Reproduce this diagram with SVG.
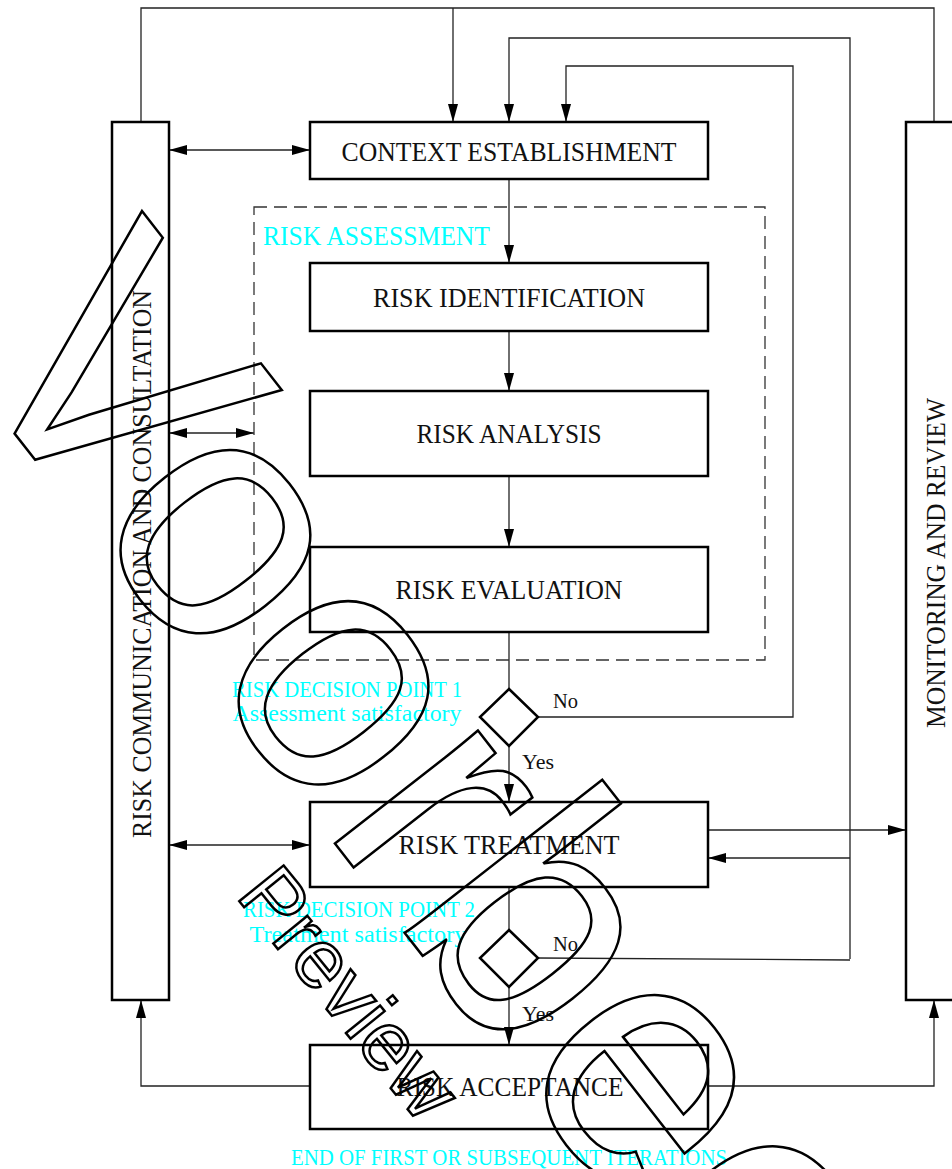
<svg xmlns="http://www.w3.org/2000/svg" width="952" height="1169" viewBox="0 0 952 1169">
<style>
.box{fill:#fff;stroke:#000;stroke-width:2.5}
.conn{fill:none;stroke:#222;stroke-width:1.3}
.dash{fill:none;stroke:#333;stroke-width:1.3;stroke-dasharray:13 7}
.lbl{font-family:"Liberation Serif","Times New Roman",serif;font-size:27px;fill:#111}
.small{font-family:"Liberation Serif","Times New Roman",serif;font-size:21px;fill:#111}
.cy{font-family:"Liberation Serif","Times New Roman",serif;font-size:23px;fill:#00FFFF}
.cyb{font-family:"Liberation Serif","Times New Roman",serif;font-size:27px;fill:#00FFFF}
.wm{fill:none;stroke:#000;stroke-width:2.5;font-family:"Liberation Sans",Arial,sans-serif}
</style>
<defs>
<marker id="arr" markerUnits="userSpaceOnUse" markerWidth="18" markerHeight="10" refX="18" refY="5" orient="auto-start-reverse">
<path d="M0,0 L18,5 L0,10 z" fill="#000"/>
</marker>
</defs>
<rect width="952" height="1169" fill="#fff"/>

<g id="connectors">
<path class="conn" d="M141,122 V8 H934 V122"/>
<path class="conn" d="M453,8 V122" marker-end="url(#arr)"/>
<path class="conn" d="M850,959 V38 H509 V122" marker-end="url(#arr)"/>
<path class="conn" d="M538,717 H793 V66 H566 V122" marker-end="url(#arr)"/>
<path class="conn" d="M538,958 L850,960"/>
<path class="conn" d="M708,830 H906" marker-end="url(#arr)"/>
<path class="conn" d="M850,858 H708" marker-end="url(#arr)"/>
<path class="conn" d="M169,150 H310" marker-start="url(#arr)" marker-end="url(#arr)"/>
<path class="conn" d="M169,433 H254" marker-start="url(#arr)" marker-end="url(#arr)"/>
<path class="conn" d="M169,845 H310" marker-start="url(#arr)" marker-end="url(#arr)"/>
<path class="conn" d="M509,179 V263" marker-end="url(#arr)"/>
<path class="conn" d="M509,331 V391" marker-end="url(#arr)"/>
<path class="conn" d="M509,476 V547" marker-end="url(#arr)"/>
<path class="conn" d="M509,632 V689"/>
<path class="conn" d="M509,746 V802" marker-end="url(#arr)"/>
<path class="conn" d="M509,887 V930"/>
<path class="conn" d="M509,987 V1045" marker-end="url(#arr)"/>
<path class="conn" d="M310,1086 H141 V1000" marker-end="url(#arr)"/>
<path class="conn" d="M708,1086 H934 V1000" marker-end="url(#arr)"/>
</g>

<g id="risk-communication">
<rect class="box" x="112" y="122" width="57" height="878"/>
<text class="lbl" transform="translate(151,564) rotate(-90)" text-anchor="middle" textLength="548" lengthAdjust="spacingAndGlyphs">RISK COMMUNICATION AND CONSULTATION</text>
</g>

<g id="monitoring-review">
<rect class="box" x="906" y="122" width="60" height="878"/>
<text class="lbl" transform="translate(945,563) rotate(-90)" text-anchor="middle" textLength="330" lengthAdjust="spacingAndGlyphs">MONITORING AND REVIEW</text>
</g>

<g id="context">
<rect class="box" x="310" y="122" width="398" height="57"/>
<text class="lbl" x="509" y="161" text-anchor="middle" textLength="335" lengthAdjust="spacingAndGlyphs">CONTEXT ESTABLISHMENT</text>
</g>

<g id="risk-assessment">
<rect class="dash" x="254" y="207" width="511" height="453"/>
<text class="cyb" x="263" y="245" textLength="227" lengthAdjust="spacingAndGlyphs">RISK ASSESSMENT</text>
</g>

<g id="identification">
<rect class="box" x="310" y="263" width="398" height="68"/>
<text class="lbl" x="509" y="307" text-anchor="middle" textLength="272" lengthAdjust="spacingAndGlyphs">RISK IDENTIFICATION</text>
</g>

<g id="analysis">
<rect class="box" x="310" y="391" width="398" height="85"/>
<text class="lbl" x="509" y="443" text-anchor="middle" textLength="185" lengthAdjust="spacingAndGlyphs">RISK ANALYSIS</text>
</g>

<g id="evaluation">
<rect class="box" x="310" y="547" width="398" height="85"/>
<text class="lbl" x="509" y="599" text-anchor="middle" textLength="227" lengthAdjust="spacingAndGlyphs">RISK EVALUATION</text>
</g>

<g id="decision1">
<path class="box" d="M509,689 L538,717 L509,746 L480,717 Z"/>
<text class="cy" x="347" y="697" text-anchor="middle" textLength="230" lengthAdjust="spacingAndGlyphs">RISK DECISION POINT 1</text>
<text class="cy" x="347" y="721" text-anchor="middle" textLength="229" lengthAdjust="spacingAndGlyphs">Assessment satisfactory</text>
<text class="small" x="553" y="708" textLength="25" lengthAdjust="spacingAndGlyphs">No</text>
<text class="small" x="522" y="769" textLength="32" lengthAdjust="spacingAndGlyphs">Yes</text>
</g>

<g id="treatment">
<rect class="box" x="310" y="802" width="398" height="85"/>
<text class="lbl" x="509" y="854" text-anchor="middle" textLength="221" lengthAdjust="spacingAndGlyphs">RISK TREATMENT</text>
</g>

<g id="decision2">
<path class="box" d="M509,930 L538,958 L509,987 L480,958 Z"/>
<text class="cy" x="359" y="917" text-anchor="middle" textLength="232" lengthAdjust="spacingAndGlyphs">RISK DECISION POINT 2</text>
<text class="cy" x="358" y="942" text-anchor="middle" textLength="217" lengthAdjust="spacingAndGlyphs">Treatment satisfactory</text>
<text class="small" x="553" y="951" textLength="25" lengthAdjust="spacingAndGlyphs">No</text>
<text class="small" x="522" y="1021" textLength="32" lengthAdjust="spacingAndGlyphs">Yes</text>
</g>

<g id="acceptance">
<rect class="box" x="310" y="1045" width="398" height="84"/>
<text class="lbl" x="510" y="1096" text-anchor="middle" textLength="227" lengthAdjust="spacingAndGlyphs">RISK ACCEPTANCE</text>
<text class="cy" x="509" y="1165" text-anchor="middle" textLength="436" lengthAdjust="spacingAndGlyphs">END OF FIRST OR SUBSEQUENT ITERATIONS</text>
</g>

<g id="watermark">
<text class="wm" transform="translate(-46,356) rotate(52)" style="font-size:345px">Voorbeeld</text>
<text class="wm" transform="translate(235,896) rotate(51)" style="font-size:83px">Preview</text>
</g>
</svg>
